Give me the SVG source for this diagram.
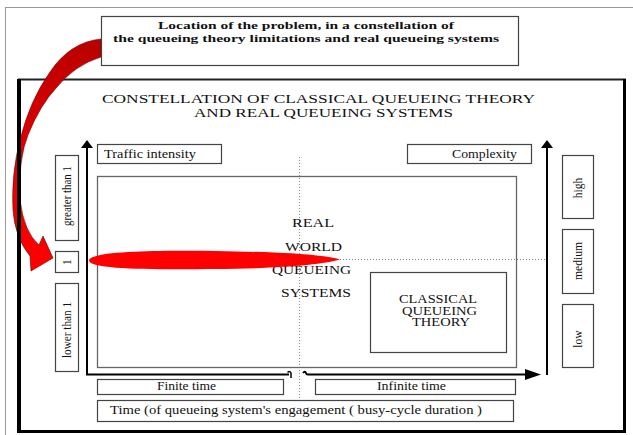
<svg xmlns="http://www.w3.org/2000/svg" width="633" height="435" viewBox="0 0 633 435" font-family="'Liberation Serif', 'DejaVu Serif', serif">
<style>
text{font-family:"Liberation Serif","DejaVu Serif","Times New Roman",serif;fill:#111}
.bx{fill:#fff;stroke:#444;stroke-width:1.2}
.lb{font-size:11.5px}
.cap{font-size:12px}
.ttl{font-size:12.5px}
.bold{font-size:11px;font-weight:bold}
.ax{stroke:#000;stroke-width:2;fill:none}
.dot{stroke:#888;stroke-width:1;stroke-dasharray:1 2;fill:none}
</style>
<defs>
<linearGradient id="rg" x1="0" y1="0" x2="0" y2="1">
<stop offset="0" stop-color="#b80000"/>
<stop offset="0.45" stop-color="#e00000"/>
<stop offset="1" stop-color="#ff0000"/>
</linearGradient>
</defs>
<rect x="0" y="0" width="633" height="435" fill="#fff"/>
<g id="page">
<line x1="5.5" y1="7" x2="5.5" y2="435" stroke="#999" stroke-width="1"/>
<line x1="5" y1="7.5" x2="633" y2="7.5" stroke="#999" stroke-width="1"/>
</g>
<g id="frame">
<line x1="18" y1="79.5" x2="626" y2="79.5" stroke="#222" stroke-width="2"/>
<line x1="624.5" y1="79" x2="624.5" y2="433" stroke="#000" stroke-width="3"/>
<line x1="18" y1="431.5" x2="626" y2="431.5" stroke="#000" stroke-width="3"/>
</g>
<g id="callout-arrow">
<path d="M101,39 Q70,42 50,72 Q30,100 20,140 Q11,175 13,210 Q15,238 30,256 L31,271 L53,258 L43,236 L39,245 Q24,232 20,200 Q18,160 28,135 Q40,105 57,87 Q75,65 101,57 Z" fill="url(#rg)" stroke="#600" stroke-width="0.6"/>
</g>
<line x1="19" y1="79" x2="19" y2="433" stroke="#000" stroke-width="4"/>
<g id="callout">
<rect class="bx" x="101.5" y="16.5" width="417" height="49"/>
<text class="bold" x="306" y="29" text-anchor="middle" textLength="296" lengthAdjust="spacingAndGlyphs">Location of the problem, in a constellation of</text>
<text class="bold" x="306" y="42" text-anchor="middle" textLength="386" lengthAdjust="spacingAndGlyphs">the queueing theory limitations and real queueing systems</text>
</g>
<g id="title">
<text class="ttl" x="102" y="103" textLength="433" lengthAdjust="spacingAndGlyphs">CONSTELLATION OF CLASSICAL QUEUEING THEORY</text>
<text class="ttl" x="194" y="117" textLength="259" lengthAdjust="spacingAndGlyphs">AND REAL QUEUEING SYSTEMS</text>
</g>
<g id="dotted">
<line class="dot" x1="299.5" y1="157" x2="299.5" y2="398"/>
<line class="dot" x1="340" y1="259.5" x2="545" y2="259.5"/>
</g>
<g id="main-area">
<rect x="97.5" y="176.5" width="419" height="191" fill="none" stroke="#666" stroke-width="1.3"/>
</g>
<g id="real-world">
<text class="cap" x="313" y="227" text-anchor="middle" textLength="42" lengthAdjust="spacingAndGlyphs">REAL</text>
<text class="cap" x="313.5" y="251" text-anchor="middle" textLength="57" lengthAdjust="spacingAndGlyphs">WORLD</text>
<text class="cap" x="311.5" y="274" text-anchor="middle" textLength="79" lengthAdjust="spacingAndGlyphs">QUEUEING</text>
<text class="cap" x="316" y="297" text-anchor="middle" textLength="70" lengthAdjust="spacingAndGlyphs">SYSTEMS</text>
</g>
<g id="problem-ellipse">
<path d="M89,260.5 C89,251 160,250.5 215,251 C275,252 322,254 340,259.5 C322,265 275,268.5 215,269 C160,269.5 89,270 89,260.5 Z" fill="#f00"/>
</g>
<g id="classical">
<rect x="370.5" y="272.5" width="136" height="80" fill="#fff" stroke="#444" stroke-width="1.2"/>
<text class="lb" x="438" y="303" text-anchor="middle" textLength="78" lengthAdjust="spacingAndGlyphs">CLASSICAL</text>
<text class="lb" x="439.5" y="315" text-anchor="middle" textLength="75" lengthAdjust="spacingAndGlyphs">QUEUEING</text>
<text class="lb" x="441" y="326" text-anchor="middle" textLength="58" lengthAdjust="spacingAndGlyphs">THEORY</text>
</g>
<g id="traffic">
<rect class="bx" x="97.5" y="144.5" width="124" height="19"/>
<text class="lb" x="104" y="158" textLength="92" lengthAdjust="spacingAndGlyphs">Traffic intensity</text>
</g>
<g id="complexity">
<rect class="bx" x="407.5" y="144.5" width="124" height="19"/>
<text class="lb" x="517" y="158" text-anchor="end" textLength="65" lengthAdjust="spacingAndGlyphs">Complexity</text>
</g>
<g id="greater">
<rect class="bx" x="55.5" y="155.5" width="23" height="85"/>
<text class="lb" transform="translate(70.5,196) rotate(-90)" text-anchor="middle" textLength="60" lengthAdjust="spacingAndGlyphs">greater than 1</text>
</g>
<g id="one">
<rect class="bx" x="55.5" y="251.5" width="23" height="21"/>
<text class="lb" transform="translate(70.5,262) rotate(-90)" text-anchor="middle">1</text>
</g>
<g id="lower">
<rect class="bx" x="55.5" y="283.5" width="23" height="88"/>
<text class="lb" transform="translate(70.5,330) rotate(-90)" text-anchor="middle" textLength="56" lengthAdjust="spacingAndGlyphs">lower than 1</text>
</g>
<g id="high">
<rect class="bx" x="562.5" y="155.5" width="31" height="63"/>
<text class="lb" transform="translate(581.5,188) rotate(-90)" text-anchor="middle">high</text>
</g>
<g id="medium">
<rect class="bx" x="562.5" y="229.5" width="31" height="64"/>
<text class="lb" transform="translate(581.5,261) rotate(-90)" text-anchor="middle" textLength="38" lengthAdjust="spacingAndGlyphs">medium</text>
</g>
<g id="low">
<rect class="bx" x="562.5" y="304.5" width="31" height="63"/>
<text class="lb" transform="translate(581.5,339) rotate(-90)" text-anchor="middle">low</text>
</g>
<g id="finite">
<rect class="bx" x="97.5" y="379.5" width="186" height="15"/>
<text class="lb" x="186.5" y="390" text-anchor="middle" textLength="59" lengthAdjust="spacingAndGlyphs">Finite time</text>
</g>
<g id="infinite">
<rect class="bx" x="315.5" y="379.5" width="200" height="15"/>
<text class="lb" x="411.5" y="390" text-anchor="middle" textLength="69" lengthAdjust="spacingAndGlyphs">Infinite time</text>
</g>
<g id="time">
<rect class="bx" x="97.5" y="400.5" width="416" height="21"/>
<text class="lb" x="296" y="414" text-anchor="middle" textLength="372" lengthAdjust="spacingAndGlyphs">Time (of queueing system's engagement ( busy-cycle duration )</text>
</g>
<g id="connectors">
<path class="ax" d="M87,147 V374.5 H289"/>
<path d="M287.5,372.5 Q290,370.5 291,373 V378" stroke="#000" stroke-width="1.5" fill="none"/>
<path d="M303,373 Q305,370.5 306,373 Q306.5,375 309,374.5 H527" class="ax"/>
<path class="ax" d="M547,147 V375"/>
<polygon points="87,140 81,148 93,148" fill="#000"/>
<polygon points="547,140 541,148 553,148" fill="#000"/>
<polygon points="541,374.5 525,369 525,380" fill="#000"/>
</g>
</svg>
